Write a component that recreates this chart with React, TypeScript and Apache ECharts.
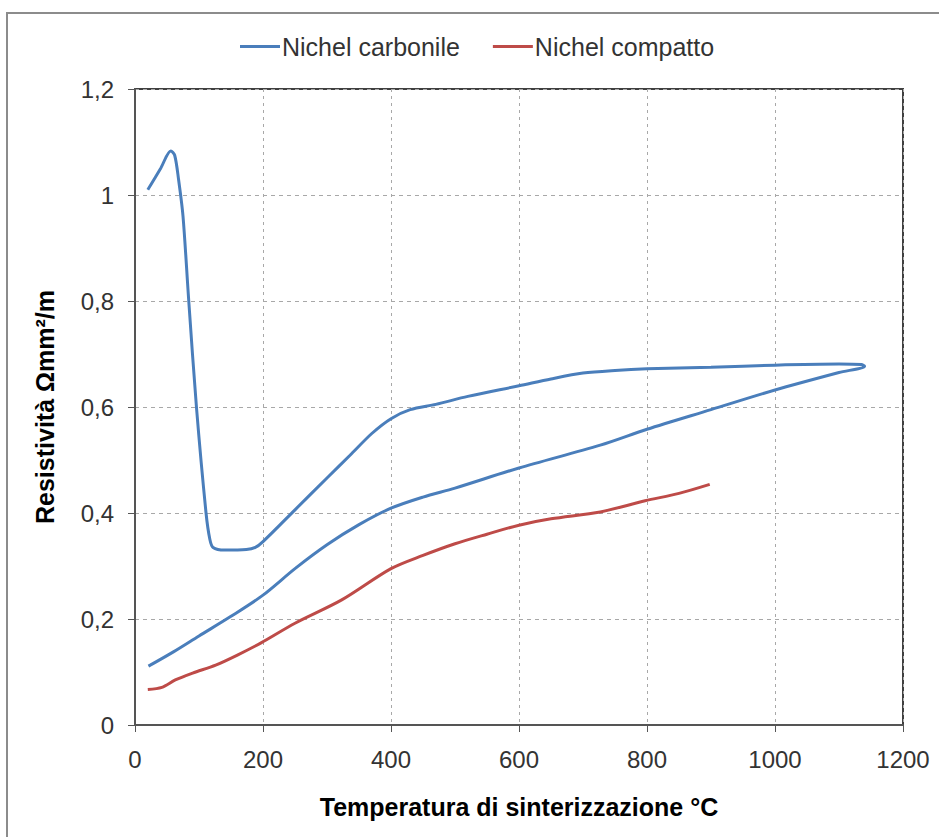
import React, { useEffect, useRef } from "react";
import * as echarts from "echarts";

const seriesNames = ["Nichel carbonile", "Nichel compatto"];

// Blue curve: heating branch then return (loop), [temperature, resistivity]
const carboniloData: [number, number][] = [
  [20, 1.01], [40, 1.05], [56, 1.083], [62, 1.075], [68, 1.03], [75, 0.96],
  [84, 0.8], [96, 0.6], [111, 0.4], [117, 0.35], [122, 0.335], [140, 0.33],
  [174, 0.331], [188, 0.335], [200, 0.346], [250, 0.406], [300, 0.466],
  [336, 0.509], [370, 0.55], [400, 0.578], [430, 0.595], [470, 0.605],
  [520, 0.62], [600, 0.64], [650, 0.653], [700, 0.664], [750, 0.669],
  [800, 0.672], [900, 0.675], [1000, 0.679], [1100, 0.681], [1135, 0.68],
  [1140, 0.677], [1100, 0.665], [1000, 0.632], [900, 0.595], [800, 0.558],
  [727, 0.528], [600, 0.485], [500, 0.447], [450, 0.43], [400, 0.409],
  [350, 0.378], [300, 0.34], [250, 0.295], [200, 0.245], [150, 0.205],
  [100, 0.168], [60, 0.138], [21, 0.111],
];

const compattoData: [number, number][] = [
  [20, 0.067], [42, 0.071], [63, 0.085], [90, 0.098], [126, 0.113],
  [160, 0.132], [197, 0.155], [250, 0.192], [323, 0.236], [400, 0.295],
  [450, 0.32], [500, 0.342], [550, 0.36], [600, 0.377], [650, 0.389],
  [727, 0.402], [797, 0.423], [850, 0.437], [898, 0.454],
];

const xAxisTitle = "Temperatura di sinterizzazione °C";
const yAxisTitle = "Resistività Ωmm²/m";

const FONT = "'Liberation Sans', Arial, sans-serif";

export default function App() {
  const ref = useRef<HTMLDivElement>(null);
  useEffect(() => {
    if (!ref.current) return;
    const chart = echarts.init(ref.current, null, { renderer: "svg" });
    chart.setOption({
      animation: false,
      backgroundColor: "#ffffff",
      graphic: [
        {
          type: "rect",
          shape: { x: 7, y: 13, width: 1000, height: 1000 },
          style: { fill: "none", stroke: "#8c8c8c", lineWidth: 2 },
          silent: true,
        },
      ],
      legend: {
        top: 29,
        left: 235,
        itemWidth: 40,
        itemHeight: 3,
        itemGap: 33,
        icon: "rect",
        textStyle: { fontFamily: FONT, fontSize: 25, color: "#333", padding: [0, 0, 0, -3] },
        data: seriesNames,
      },
      grid: {
        left: 135,
        right: 36,
        top: 89,
        bottom: 112,
        show: true,
        borderColor: "#404040",
        borderWidth: 2,
      },
      xAxis: {
        type: "value",
        min: 0,
        max: 1200,
        interval: 200,
        name: xAxisTitle,
        nameLocation: "middle",
        nameGap: 69,
        nameTextStyle: { fontFamily: FONT, fontSize: 25, fontWeight: "bold", color: "#000" },
        axisLine: { show: true, lineStyle: { color: "#555", width: 2 } },
        axisTick: { show: true, length: 7, lineStyle: { color: "#555" } },
        axisLabel: {
          fontFamily: FONT,
          fontSize: 24,
          color: "#333",
          margin: 22,
          formatter: (v: number) => String(v),
        },
        splitLine: { show: true, lineStyle: { color: "#a8a8a8", type: [3, 4], width: 1 } },
      },
      yAxis: {
        type: "value",
        min: 0,
        max: 1.2,
        interval: 0.2,
        name: yAxisTitle,
        nameLocation: "middle",
        nameGap: 78,
        nameTextStyle: { fontFamily: FONT, fontSize: 25, fontWeight: "bold", color: "#000" },
        axisLine: { show: true, lineStyle: { color: "#555", width: 2 } },
        axisTick: { show: true, length: 7, lineStyle: { color: "#555" } },
        axisLabel: {
          fontFamily: FONT,
          fontSize: 24,
          color: "#333",
          margin: 21,
          formatter: (v: number) => String(+v.toFixed(1)).replace(".", ","),
        },
        splitLine: { show: true, lineStyle: { color: "#a8a8a8", type: [4, 4], width: 1 } },
      },
      series: [
        {
          name: seriesNames[0],
          type: "line",
          data: carboniloData,
          smooth: 0.3,
          showSymbol: false,
          symbol: "none",
          lineStyle: { color: "#4a7ebb", width: 3 },
          itemStyle: { color: "#4a7ebb" },
        },
        {
          name: seriesNames[1],
          type: "line",
          data: compattoData,
          smooth: 0.3,
          showSymbol: false,
          symbol: "none",
          lineStyle: { color: "#be4b48", width: 3 },
          itemStyle: { color: "#be4b48" },
        },
      ],
    });
    return () => chart.dispose();
  }, []);
  return (
    <div
      ref={ref}
      style={{ position: "fixed", left: 0, top: 0, width: 939, height: 837 }}
    />
  );
}
